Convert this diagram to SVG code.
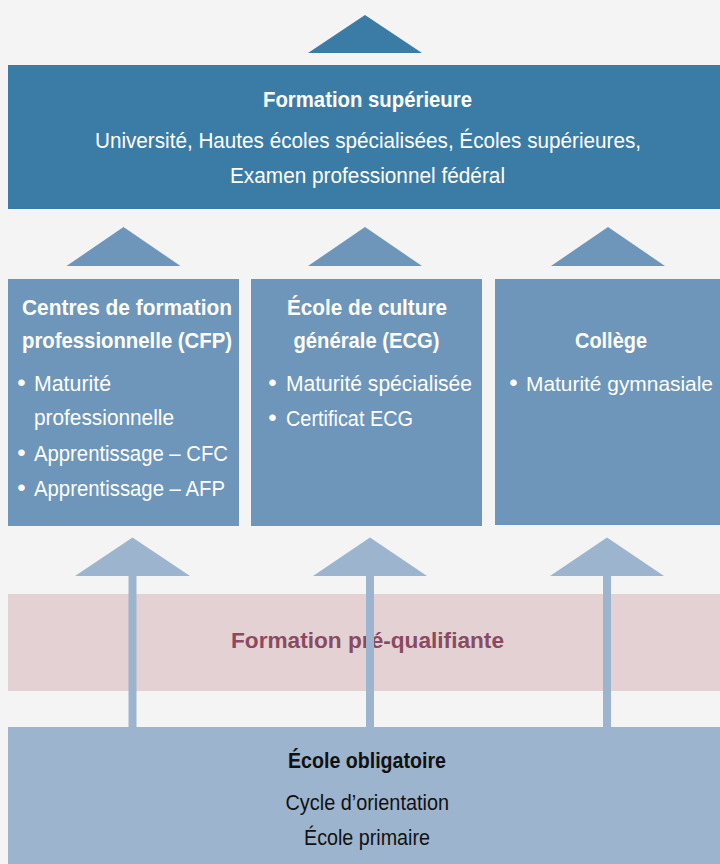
<svg xmlns="http://www.w3.org/2000/svg" width="720" height="864" viewBox="0 0 720 864">
<style>
.t{font-family:"Liberation Sans",Arial,sans-serif;font-size:22px;text-anchor:start}
.b{font-weight:bold}
.w{fill:#ffffff}
.k{fill:#111111}
.p{fill:#8a4a5f}
.dk{fill:#3b7ca6}
.md{fill:#6d96ba}
.lt{fill:#9db4ce}
.bul{font-family:"Liberation Sans",Arial,sans-serif;font-size:24px;fill:#ffffff;text-anchor:middle}
</style>
<rect x="0" y="0" width="720" height="864" fill="#f4f4f4"/>

<g id="formation-superieure">
<rect class="dk" x="8" y="65" width="712" height="144"/>
<text class="t b w" x="263" y="107" textLength="209" lengthAdjust="spacingAndGlyphs">Formation supérieure</text>
<text class="t w" x="95" y="148" textLength="546" lengthAdjust="spacingAndGlyphs">Université, Hautes écoles spécialisées, Écoles supérieures,</text>
<text class="t w" x="230" y="183" textLength="275" lengthAdjust="spacingAndGlyphs">Examen professionnel fédéral</text>
</g>

<g id="cfp">
<rect class="md" x="8" y="279" width="231" height="247"/>
<text class="t b w" x="22" y="315" textLength="210" lengthAdjust="spacingAndGlyphs">Centres de formation</text>
<text class="t b w" x="22" y="348" textLength="210" lengthAdjust="spacingAndGlyphs">professionnelle (CFP)</text>
<text class="bul" x="21.5" y="391">•</text>
<text class="t w" x="34" y="391" textLength="77" lengthAdjust="spacingAndGlyphs">Maturité</text>
<text class="t w" x="34" y="425" textLength="140" lengthAdjust="spacingAndGlyphs">professionnelle</text>
<text class="bul" x="21.5" y="461">•</text>
<text class="t w" x="34" y="461" textLength="194" lengthAdjust="spacingAndGlyphs">Apprentissage – CFC</text>
<text class="bul" x="21.5" y="496">•</text>
<text class="t w" x="34" y="496" textLength="191" lengthAdjust="spacingAndGlyphs">Apprentissage – AFP</text>
</g>

<g id="ecg">
<rect class="md" x="251" y="279" width="231" height="247"/>
<text class="t b w" x="287" y="315" textLength="160" lengthAdjust="spacingAndGlyphs">École de culture</text>
<text class="t b w" x="293.5" y="348" textLength="146" lengthAdjust="spacingAndGlyphs">générale (ECG)</text>
<text class="bul" x="272.5" y="391">•</text>
<text class="t w" x="286" y="391" textLength="186" lengthAdjust="spacingAndGlyphs">Maturité spécialisée</text>
<text class="bul" x="272.5" y="426">•</text>
<text class="t w" x="286" y="426" textLength="127" lengthAdjust="spacingAndGlyphs">Certificat ECG</text>
</g>

<g id="college">
<rect class="md" x="495" y="279" width="225" height="246"/>
<text class="t b w" x="575" y="348" textLength="72" lengthAdjust="spacingAndGlyphs">Collège</text>
<text class="bul" x="513.5" y="391">•</text>
<text class="t w" x="526" y="391" font-size="21" style="font-size:21px" textLength="187" lengthAdjust="spacingAndGlyphs">Maturité gymnasiale</text>
</g>

<g id="formation-pre-qualifiante">
<rect x="8" y="594" width="712" height="97" fill="#e4d1d4"/>
<text class="t b p" x="231" y="648" textLength="273" lengthAdjust="spacingAndGlyphs">Formation pré-qualifiante</text>
</g>

<g id="ecole-obligatoire">
<rect class="lt" x="8" y="727" width="712" height="137"/>
<text class="t b k" x="288" y="768" textLength="158" lengthAdjust="spacingAndGlyphs">École obligatoire</text>
<text class="t k" x="285.5" y="810" textLength="163.5" lengthAdjust="spacingAndGlyphs">Cycle d’orientation</text>
<text class="t k" x="304" y="845" textLength="126" lengthAdjust="spacingAndGlyphs">École primaire</text>
</g>

<g id="connectors">
<polygon class="dk" points="308,53 365,15 422,53"/>
<polygon class="md" points="66.5,266 123.5,227 180.5,266"/>
<polygon class="md" points="308,266 365,227 422,266"/>
<polygon class="md" points="551,266 608,227 665,266"/>
<polygon class="lt" points="75,576 132.5,537.5 190,576"/>
<polygon class="lt" points="313,576 370,537.5 427,576"/>
<polygon class="lt" points="550,576 607,537.5 664,576"/>
<rect class="lt" x="128.5" y="575" width="8" height="153"/>
<rect class="lt" x="366" y="575" width="8" height="153"/>
<rect class="lt" x="603" y="575" width="8" height="153"/>
</g>
</svg>
